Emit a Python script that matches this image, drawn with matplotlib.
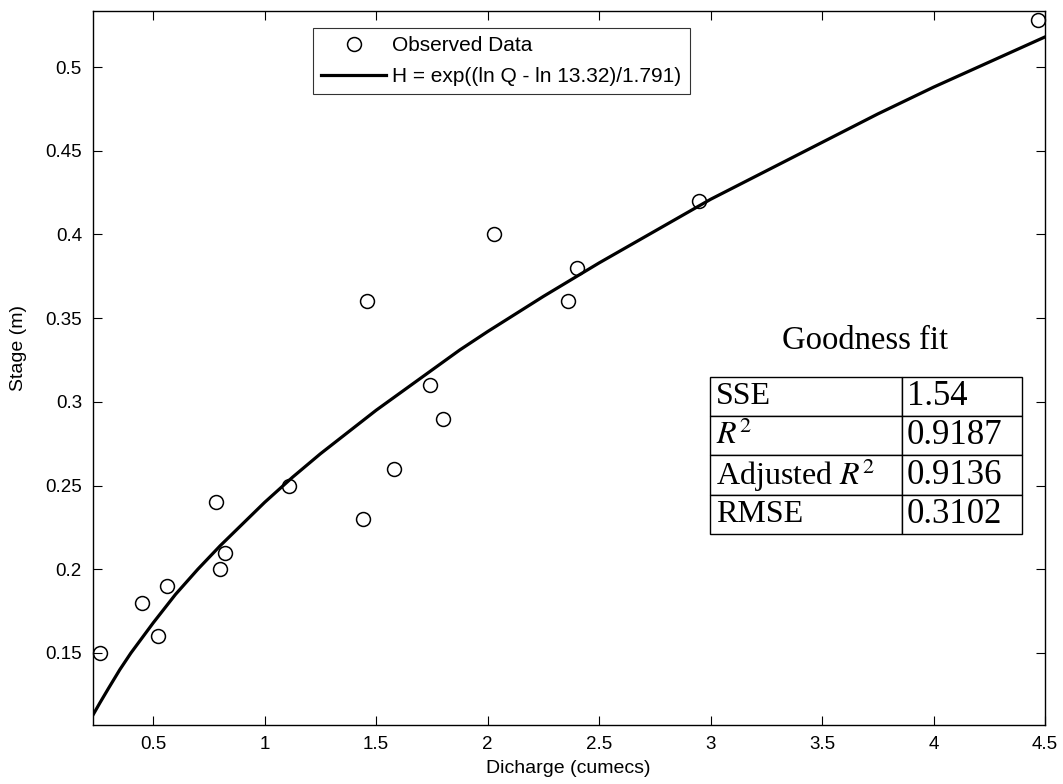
import matplotlib
matplotlib.use("Agg")
import matplotlib.pyplot as plt

plt.rcParams['font.family'] = ['Liberation Sans', 'DejaVu Sans']
plt.rcParams['mathtext.fontset'] = 'stix'

# Observed data (discharge Q, stage H)
obs_q = [0.26, 0.45, 0.52, 0.56, 0.78, 0.80, 0.82, 1.11, 1.44, 1.46, 1.58,
         1.74, 1.80, 2.03, 2.36, 2.40, 2.95, 4.47]
obs_h = [0.15, 0.18, 0.16, 0.19, 0.24, 0.20, 0.21, 0.25, 0.23, 0.36, 0.26,
         0.31, 0.29, 0.40, 0.36, 0.38, 0.42, 0.528]

# Fitted rating curve
fit_q = [0.23, 0.26, 0.30, 0.35, 0.40, 0.45, 0.50, 0.60, 0.70, 0.80, 0.90,
         1.00, 1.125, 1.25, 1.375, 1.50, 1.625, 1.75, 1.875, 2.00, 2.25,
         2.50, 2.75, 3.00, 3.25, 3.50, 3.75, 4.00, 4.25, 4.50]
fit_h = [0.113, 0.120, 0.129, 0.140, 0.150, 0.159, 0.168, 0.185, 0.200, 0.214, 0.227,
         0.240, 0.255, 0.269, 0.282, 0.295, 0.307, 0.319, 0.331, 0.342, 0.363,
         0.383, 0.402, 0.421, 0.438, 0.455, 0.472, 0.488, 0.503, 0.518]

x_ticks = [0.5, 1, 1.5, 2, 2.5, 3, 3.5, 4, 4.5]
x_ticklabels = ['0.5', '1', '1.5', '2', '2.5', '3', '3.5', '4', '4.5']
y_ticks = [0.15, 0.2, 0.25, 0.3, 0.35, 0.4, 0.45, 0.5]
y_ticklabels = ['0.15', '0.2', '0.25', '0.3', '0.35', '0.4', '0.45', '0.5']

table_labels = ['SSE', '$R^2$', 'Adjusted $R^2$', 'RMSE']
table_values = ['1.54', '0.9187', '0.9136', '0.3102']

fig = plt.figure(figsize=(10.63, 7.84), dpi=100)
ax = fig.add_axes([0.0875, 0.0753, 0.8956, 0.9107])

ax.plot(obs_q, obs_h, 'o', mfc='none', mec='black', ms=10, mew=1.1,
        label='Observed Data', clip_on=False, zorder=3)
ax.plot(fit_q, fit_h, '-', color='black', lw=2.3,
        label='H = exp((ln Q - ln 13.32)/1.791)', zorder=2)

ax.set_xlim(0.23, 4.5)
ax.set_ylim(0.107, 0.5335)
ax.set_xticks(x_ticks)
ax.set_xticklabels(x_ticklabels)
ax.set_yticks(y_ticks)
ax.set_yticklabels(y_ticklabels)
ax.tick_params(direction='in', length=6.5, width=0.8, top=True, right=True,
               labelsize=13.5, pad=8)
for s in ax.spines.values():
    s.set_linewidth(1.0)

ax.set_xlabel('Dicharge (cumecs)', fontsize=14)
ax.set_ylabel('Stage (m)', fontsize=14)
ax.xaxis.set_label_coords(0.499, -0.049)
ax.yaxis.set_label_coords(-0.069, 0.528)

leg = ax.legend(loc='upper left', bbox_to_anchor=(0.231, 0.976), fontsize=15,
                frameon=True, fancybox=False, edgecolor='black', handlelength=3.1,
                borderpad=0.4, labelspacing=0.55, handletextpad=0.3,
                borderaxespad=0)
leg.get_frame().set_linewidth(0.8)

ax.text(0.811, 0.538, 'Goodness fit', transform=ax.transAxes, ha='center',
        va='center', fontsize=23.5, family='Liberation Serif')

cells = [[l, v] for l, v in zip(table_labels, table_values)]
tbl = ax.table(cellText=cells, cellLoc='left', colWidths=[192, 120],
               bbox=[0.648, 0.2675, 0.3277, 0.2199])
tbl.auto_set_font_size(False)
for (r, c), cell in tbl.get_celld().items():
    cell.set_edgecolor('black')
    cell.set_linewidth(1.0)
    cell.get_text().set_fontsize(23 if c == 0 else 25)
    cell.get_text().set_family('Liberation Serif')
    cell.PAD = 0.03 if c == 0 else 0.04

fig.savefig('out.png', dpi=100)
